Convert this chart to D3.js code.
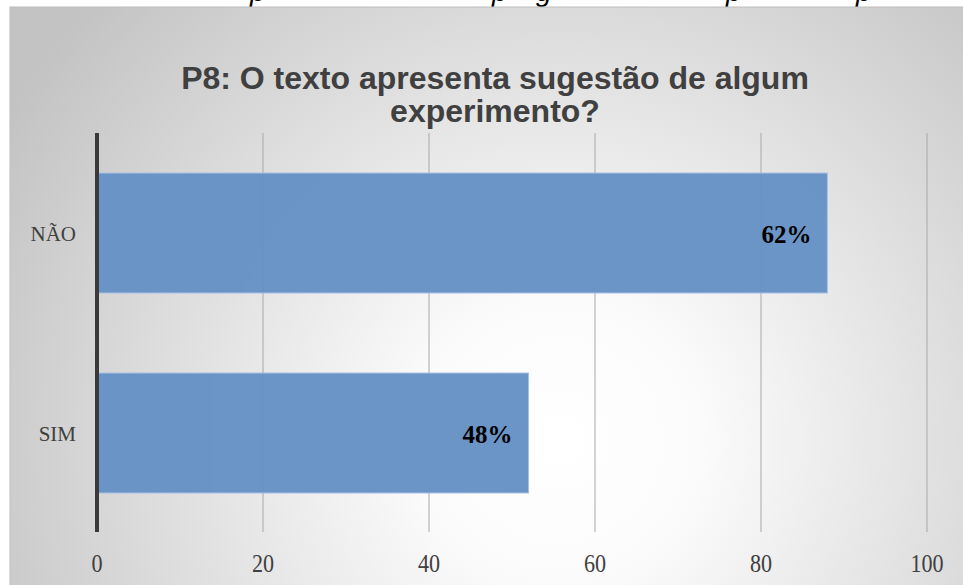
<!DOCTYPE html>
<html><head><meta charset="utf-8">
<script src="https://cdn.jsdelivr.net/npm/d3@7"></script>
<style>html,body{margin:0;padding:0;background:#fff;overflow:hidden}</style>
</head><body>
<svg id="c" width="963" height="585"></svg>
<script>
const categories = ["NÃO", "SIM"];
const values = [88, 52];
const valueLabels = ["62%", "48%"];
const ticks = [0, 20, 40, 60, 80, 100];
const titleLines = ["P8: O texto apresenta sugestão de algum", "experimento?"];
const topFragments = ["p", "p", "g", "p", "p"];

const svg = d3.select("#c");
const defs = svg.append("defs");
const rg = defs.append("radialGradient").attr("id","bg")
  .attr("gradientUnits","userSpaceOnUse").attr("cx",560).attr("cy",440).attr("r",640);
rg.append("stop").attr("offset","0").attr("stop-color","#ffffff");
rg.append("stop").attr("offset","0.22").attr("stop-color","#fbfbfb");
rg.append("stop").attr("offset","1").attr("stop-color","#c3c3c3");

// cropped italic caption fragments at the very top
const fragX = [250, 492, 536, 726, 856];
svg.append("text").attr("font-family","Liberation Sans, Arial").attr("font-style","italic")
  .attr("font-size",28).attr("fill","#000").attr("y",1)
  .selectAll("tspan").data(topFragments).join("tspan")
  .attr("x",(d,i)=>fragX[i]).text(d=>d);

svg.append("rect").attr("x",10).attr("y",7).attr("width",960).attr("height",590)
  .attr("fill","url(#bg)").attr("stroke","#bdbdbd").attr("stroke-width",1);

const x = d3.scaleLinear().domain([0,100]).range([97,927]);
const y = d3.scaleBand().domain(categories).range([133,533]).paddingInner(0.4).paddingOuter(0.2);

// gridlines
svg.append("g").selectAll("line").data(ticks.slice(1)).join("line")
  .attr("x1",d=>x(d)).attr("x2",d=>x(d)).attr("y1",133).attr("y2",532)
  .attr("stroke","#a8a8a8").attr("stroke-width",1);

// bars
svg.append("g").selectAll("rect").data(categories).join("rect")
  .attr("x",x(0)).attr("y",d=>y(d)).attr("width",(d,i)=>x(values[i])-x(0))
  .attr("height",y.bandwidth()).attr("fill","#6692c5").attr("fill-opacity",0.97)
  .attr("stroke","#a9c1e2").attr("stroke-width",1);

// axis line
svg.append("line").attr("x1",97).attr("x2",97).attr("y1",133).attr("y2",532)
  .attr("stroke","#3a3a3a").attr("stroke-width",4);

// category labels
svg.append("g").selectAll("text").data(categories).join("text")
  .attr("x",76).attr("y",d=>y(d)+y.bandwidth()/2+8).attr("text-anchor","end")
  .attr("font-family","Liberation Serif, DejaVu Serif, serif").attr("font-size",21)
  .attr("fill","#404040").text(d=>d);

// value labels
svg.append("g").selectAll("text").data(categories).join("text")
  .attr("x",(d,i)=>x(values[i])-16).attr("y",d=>y(d)+y.bandwidth()/2+10).attr("text-anchor","end")
  .attr("font-family","Liberation Serif, DejaVu Serif, serif").attr("font-weight","bold").attr("font-size",25)
  .attr("fill","#000").text((d,i)=>valueLabels[i]);

// tick labels
svg.append("g").selectAll("text").data(ticks).join("text")
  .attr("x",0).attr("y",0).attr("text-anchor","middle")
  .attr("font-family","Liberation Serif, DejaVu Serif, serif").attr("font-size",26)
  .attr("fill","#404040").attr("transform",d=>`translate(${x(d)},572) scale(0.85,1)`)
  .text(d=>d);

// title
svg.append("g").selectAll("text").data(titleLines).join("text")
  .attr("x",495).attr("y",(d,i)=>89+i*33).attr("text-anchor","middle")
  .attr("font-family","Liberation Sans, Arial, sans-serif").attr("font-weight","bold").attr("font-size",32)
  .attr("fill","#404040").text(d=>d);
</script>
</body></html>
